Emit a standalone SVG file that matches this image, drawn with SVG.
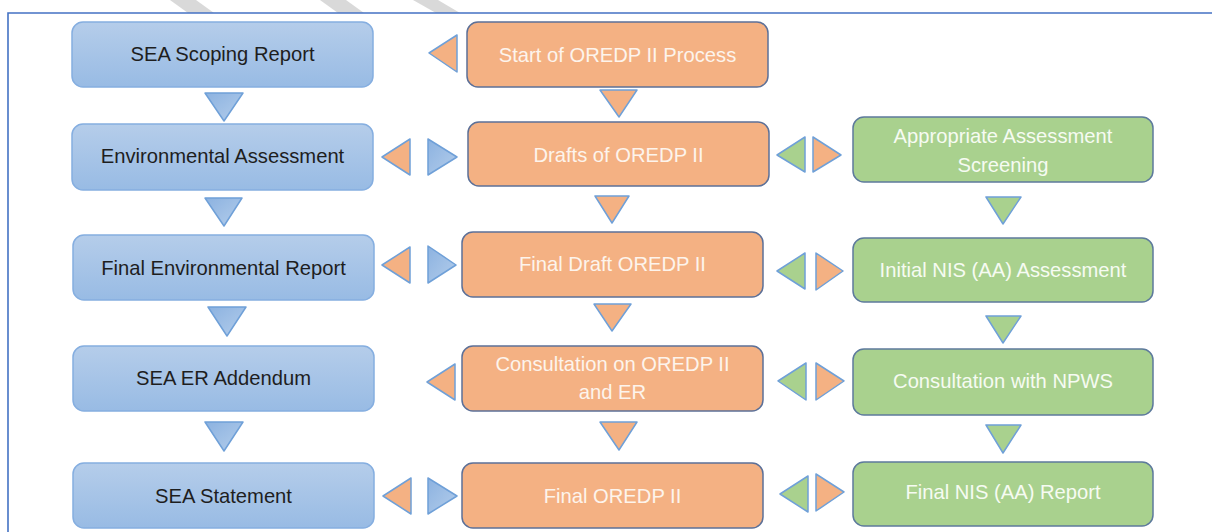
<svg xmlns="http://www.w3.org/2000/svg" width="1212" height="532" viewBox="0 0 1212 532">
<defs>
<linearGradient id="gb" x1="0" y1="0" x2="0" y2="1">
<stop offset="0" stop-color="#b5cdea"/>
<stop offset="1" stop-color="#98bbe4"/>
</linearGradient>
<linearGradient id="gbt" x1="0" y1="0" x2="1" y2="1">
<stop offset="0" stop-color="#8cb2e0"/>
<stop offset="1" stop-color="#b3cdeb"/>
</linearGradient>
</defs>
<style>
.bb{fill:url(#gb);stroke:#85aee0;stroke-width:1.5}
.ob{fill:#f4b183;stroke:#5c7098;stroke-width:1.5}
.gr{fill:#a9d18e;stroke:#5d7a9c;stroke-width:1.5}
.t{font-family:"Liberation Sans",Arial,sans-serif;font-size:20.2px;text-anchor:middle}
.tb{fill:#1e1e1e}
.tw{fill:#fdf4ec}
.tg{fill:#f6fbf2}
.to{fill:#f4b183;stroke:#6fa0d8;stroke-width:1.5;stroke-linejoin:round}
.tbl{fill:url(#gbt);stroke:#6fa0d8;stroke-width:1.5;stroke-linejoin:round}
.tgr{fill:#a9d18e;stroke:#6fa0d8;stroke-width:1.5;stroke-linejoin:round}
.stripe{fill:#d9d9d9}
</style>
<rect width="1212" height="532" fill="#ffffff"/>
<g id="stripes">
<polygon class="stripe" points="170,0 196,0 214,13 188,13"/>
<polygon class="stripe" points="320,0 346,0 364,13 338,13"/>
<polygon class="stripe" points="413,0 438,0 460,13 436,13"/>
</g>
<g id="frame" fill="none" stroke="#4472c4" stroke-width="1.6">
<path d="M8,532 V13 H1212"/>
</g>
<g id="connectors">
<polygon class="tbl" points="205,93 243,93 224,121"/>
<polygon class="tbl" points="205,198 242,198 224,226"/>
<polygon class="tbl" points="208,307 246,307 227,336"/>
<polygon class="tbl" points="205,422 243,422 224,451"/>
<polygon class="to" points="600,90 637,90 619,117"/>
<polygon class="to" points="595,196 629,196 612,223"/>
<polygon class="to" points="594,304 631,304 612,331"/>
<polygon class="to" points="600,422 637,422 619,450"/>
<polygon class="tgr" points="986,197 1021,197 1003,224"/>
<polygon class="tgr" points="986,316 1021,316 1003,343"/>
<polygon class="tgr" points="986,425 1021,425 1003,453"/>
<polygon class="to" points="457,35 457,72 429,53"/>
<polygon class="to" points="410,139 410,175 382,157"/>
<polygon class="tbl" points="428,139 428,175 457,157"/>
<polygon class="to" points="410,247 410,283 382,265"/>
<polygon class="tbl" points="428,246 428,283 456,265"/>
<polygon class="to" points="455,364 455,400 427,382"/>
<polygon class="to" points="411,478 411,514 383,496"/>
<polygon class="tbl" points="428,478 428,514 457,496"/>
<polygon class="tgr" points="805,137 805,172 777,155"/>
<polygon class="to" points="813,137 813,172 841,155"/>
<polygon class="tgr" points="805,253 805,289 777,271"/>
<polygon class="to" points="816,253 816,290 843,271"/>
<polygon class="tgr" points="806,363 806,400 778,381"/>
<polygon class="to" points="816,363 816,400 844,381"/>
<polygon class="tgr" points="808,476 808,512 780,494"/>
<polygon class="to" points="816,474 816,511 844,492"/>
</g>
<g id="sea-scoping-report"><rect class="bb" x="72" y="22" width="301" height="65" rx="11"/><text class="t tb" x="222.5" y="61">SEA Scoping Report</text></g>
<g id="environmental-assessment"><rect class="bb" x="72" y="124" width="301" height="66" rx="11"/><text class="t tb" x="222.5" y="163">Environmental Assessment</text></g>
<g id="final-environmental-report"><rect class="bb" x="73" y="235" width="301" height="65" rx="11"/><text class="t tb" x="223.5" y="275">Final Environmental Report</text></g>
<g id="sea-er-addendum"><rect class="bb" x="73" y="346" width="301" height="65" rx="11"/><text class="t tb" x="223.5" y="385">SEA ER Addendum</text></g>
<g id="sea-statement"><rect class="bb" x="73" y="463" width="301" height="65" rx="11"/><text class="t tb" x="223.5" y="503">SEA Statement</text></g>
<g id="start-oredp"><rect class="ob" x="467" y="22" width="301" height="65" rx="11"/><text class="t tw" x="617.5" y="62">Start of OREDP II Process</text></g>
<g id="drafts-oredp"><rect class="ob" x="468" y="122" width="301" height="64" rx="11"/><text class="t tw" x="618.5" y="162">Drafts of OREDP II</text></g>
<g id="final-draft-oredp"><rect class="ob" x="462" y="232" width="301" height="65" rx="11"/><text class="t tw" x="612.5" y="271">Final Draft OREDP II</text></g>
<g id="consultation-oredp"><rect class="ob" x="462" y="346" width="301" height="65" rx="11"/><text class="t tw" x="612.5" y="371">Consultation on OREDP II</text><text class="t tw" x="612.5" y="399">and ER</text></g>
<g id="final-oredp"><rect class="ob" x="462" y="463" width="301" height="65" rx="11"/><text class="t tw" x="612.5" y="503">Final OREDP II</text></g>
<g id="aa-screening"><rect class="gr" x="853" y="117" width="300" height="65" rx="11"/><text class="t tg" x="1003" y="143">Appropriate Assessment</text><text class="t tg" x="1003" y="172">Screening</text></g>
<g id="initial-nis"><rect class="gr" x="853" y="238" width="300" height="64" rx="11"/><text class="t tg" x="1003" y="277">Initial NIS (AA) Assessment</text></g>
<g id="consultation-npws"><rect class="gr" x="853" y="349" width="300" height="66" rx="11"/><text class="t tg" x="1003" y="388">Consultation with NPWS</text></g>
<g id="final-nis"><rect class="gr" x="853" y="462" width="300" height="64" rx="11"/><text class="t tg" x="1003" y="499">Final NIS (AA) Report</text></g>
</svg>
